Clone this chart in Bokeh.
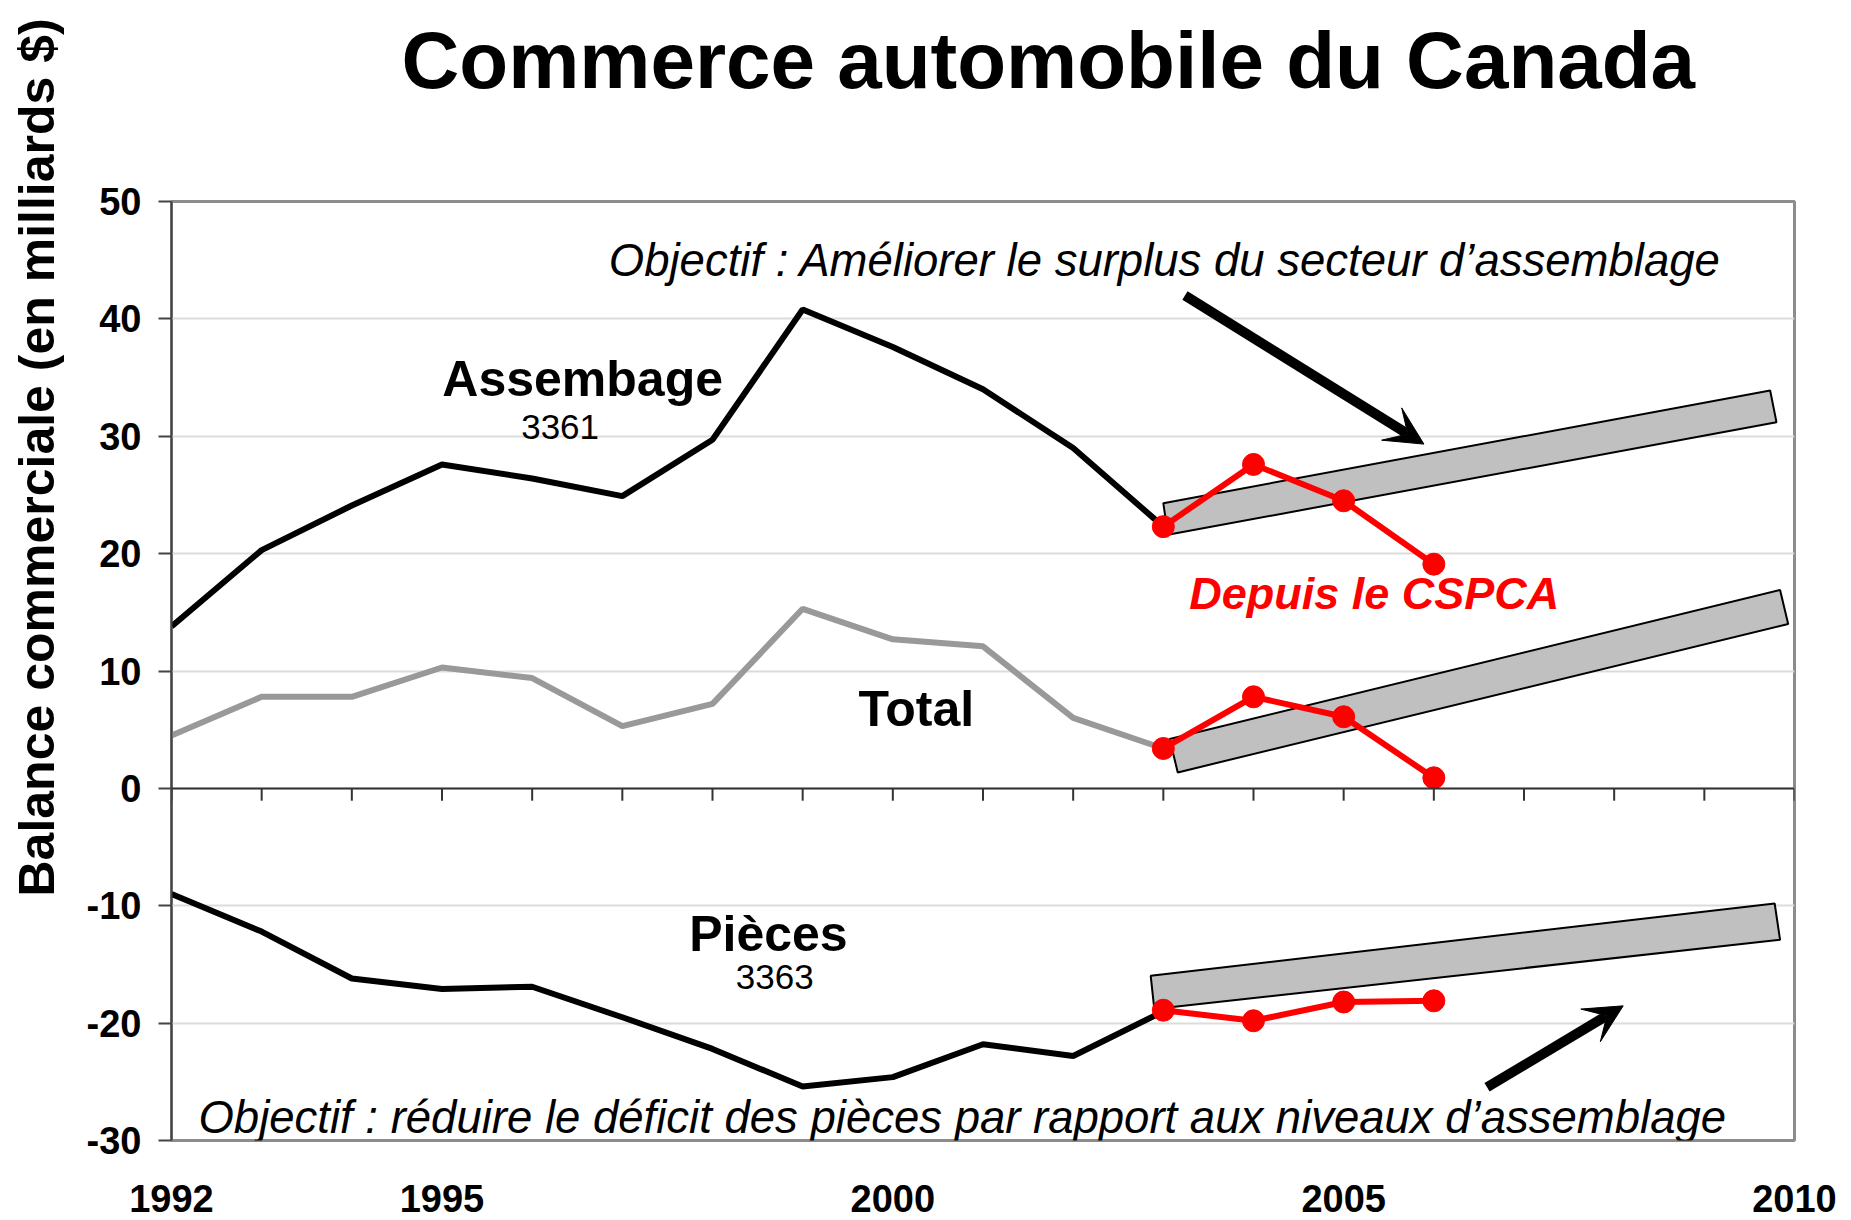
import numpy as np
from bokeh.plotting import figure
from bokeh.models import (Range1d, Label, Arrow, VeeHead, Span, FixedTicker,
                          PrintfTickFormatter, Title)
from bokeh.embed import file_html
from bokeh.resources import INLINE

# ---------------- data ----------------
years_hist = [1992, 1993, 1994, 1995, 1996, 1997, 1998, 1999, 2000, 2001, 2002, 2003]
assemblage = [13.8, 20.3, 24.1, 27.6, 26.4, 24.9, 29.7, 40.8, 37.6, 34.0, 29.0, 22.3]
total = [4.5, 7.8, 7.8, 10.3, 9.4, 5.3, 7.2, 15.3, 12.7, 12.1, 6.0, 3.4]
pieces = [-9.0, -12.2, -16.2, -17.1, -16.9, -19.5, -22.2, -25.4, -24.6, -21.8, -22.8, -19.0]

years_cspca = [2003, 2004, 2005, 2006]
assemblage_cspca = [22.3, 27.6, 24.5, 19.1]
total_cspca = [3.4, 7.8, 6.1, 0.9]
pieces_cspca = [-18.9, -19.8, -18.2, -18.1]

# target bands (corners in data units)
band_assemblage_x = [2003.0, 2009.73, 2009.8, 2003.05]
band_assemblage_y = [24.3, 33.9, 31.2, 21.6]
band_total_x = [2003.07, 2009.84, 2009.93, 2003.16]
band_total_y = [4.2, 16.9, 14.0, 1.36]
band_pieces_x = [2002.86, 2009.78, 2009.84, 2002.9]
band_pieces_y = [-15.97, -9.81, -12.9, -18.8]

# objective arrows (start x, start y, end x, end y in data units)
arrow_top = [2003.24, 42.0, 2005.89, 29.33]
arrow_bottom = [2006.59, -25.47, 2008.1, -18.53]

y_ticks = [-30, -20, -10, 0, 10, 20, 30, 40, 50]
minor_year_ticks = list(range(1992, 2011))
x_label_years = [1992, 1995, 2000, 2005, 2010]

FONT = "Liberation Sans"

p = figure(width=1851, height=1220, x_range=Range1d(1992, 2010), y_range=Range1d(-30, 50),
           output_backend="svg", toolbar_location=None,
           min_border_left=171, min_border_right=57, min_border_top=201, min_border_bottom=80)
p.background_fill_color = "white"
p.border_fill_color = "white"
p.outline_line_color = "#8c8c8c"
p.outline_line_width = 3

# main title (placed outermost) and a blank white spacer next to the frame
p.title.text = "Commerce automobile du Canada"
p.title.text_font = FONT
p.title.text_font_size = "80px"
p.title.text_font_style = "bold"
p.title.text_color = "black"
p.title.align = "left"
p.title.offset = 230
p.title.standoff = 0
p.add_layout(Title(text=" ", text_font=FONT, text_font_size="80px", text_color="white",
                   standoff=6), "above")

# y-axis title: blank spacer next to the axis, then the title itself
p.add_layout(Title(text=" ", text_font=FONT, text_font_size="10px", text_color="white",
                   standoff=6), "left")
p.add_layout(Title(text="Balance commerciale (en milliards $)", text_font=FONT,
                   text_font_size="50px", text_font_style="bold", text_color="black",
                   align="left", offset=244, standoff=0), "left")

# x axis (year labels only)
xax = p.xaxis[0]
xax.ticker = FixedTicker(ticks=x_label_years)
xax.formatter = PrintfTickFormatter(format="%d")
xax.major_label_text_font = FONT
xax.major_label_text_font_size = "38px"
xax.major_label_text_font_style = "bold"
xax.major_label_text_color = "black"
xax.major_label_standoff = 44
xax.axis_line_color = None
xax.major_tick_line_color = None
xax.major_tick_out = 0
xax.major_tick_in = 0
xax.minor_tick_line_color = None
p.xgrid.visible = False

yax = p.yaxis[0]
yax.ticker = FixedTicker(ticks=y_ticks)
yax.formatter = PrintfTickFormatter(format="%d")
yax.major_label_text_font = FONT
yax.major_label_text_font_size = "38px"
yax.major_label_text_font_style = "bold"
yax.major_label_text_color = "black"
yax.major_label_standoff = 17
yax.axis_line_color = "#444444"
yax.axis_line_width = 2
yax.major_tick_line_color = "#444444"
yax.major_tick_line_width = 2
yax.major_tick_out = 13
yax.major_tick_in = 0
yax.minor_tick_line_color = None

p.ygrid.ticker = FixedTicker(ticks=y_ticks)
p.ygrid.grid_line_color = "#dcdcdc"
p.ygrid.grid_line_width = 2

# zero line with yearly ticks
p.add_layout(Span(location=0, dimension="width", line_color="#333333", line_width=2))
p.segment(x0=minor_year_ticks, y0=[0] * len(minor_year_ticks),
          x1=minor_year_ticks, y1=[-1.05] * len(minor_year_ticks),
          line_color="#333333", line_width=2)

# historical lines
p.line(years_hist, assemblage, line_color="black", line_width=6)
p.line(years_hist, total, line_color="#999999", line_width=6)
p.line(years_hist, pieces, line_color="black", line_width=6)

# target bands
p.patches(xs=[band_assemblage_x, band_total_x, band_pieces_x],
          ys=[band_assemblage_y, band_total_y, band_pieces_y],
          fill_color="#c0c0c0", line_color="black", line_width=2)

# since CSPCA
for ys in (assemblage_cspca, total_cspca, pieces_cspca):
    p.line(years_cspca, ys, line_color="#ff0000", line_width=6)
    p.scatter(years_cspca, ys, size=22, fill_color="#ff0000", line_color="#ff0000")

# arrows
for a in (arrow_top, arrow_bottom):
    p.add_layout(Arrow(end=VeeHead(size=38, fill_color="black", line_color="black", line_width=1),
                       x_start=a[0], y_start=a[1], x_end=a[2], y_end=a[3],
                       line_color="black", line_width=10))


def lab(x, y, text, size, style="normal", color="black"):
    p.add_layout(Label(x=x, y=y, text=text, text_font=FONT, text_font_size=size,
                       text_font_style=style, text_color=color,
                       text_align="center", text_baseline="middle"))


lab(2003.02, 44.98, "Objectif : Améliorer le surplus du secteur d\u2019assemblage", "45.5px", "italic")
lab(2000.77, -28.04, "Objectif : réduire le déficit des pièces par rapport aux niveaux d\u2019assemblage",
    "45.5px", "italic")
lab(1996.56, 34.84, "Assembage", "50px", "bold")
lab(1996.31, 30.83, "3361", "35px")
lab(2000.26, 6.77, "Total", "50px", "bold")
lab(2005.34, 16.6, "Depuis le CSPCA", "45px", "bold italic", color="#ff0000")
lab(1998.62, -12.37, "Pièces", "50px", "bold")
lab(1998.69, -16.04, "3363", "35px")

open("out.html", "w").write(file_html(p, INLINE))
